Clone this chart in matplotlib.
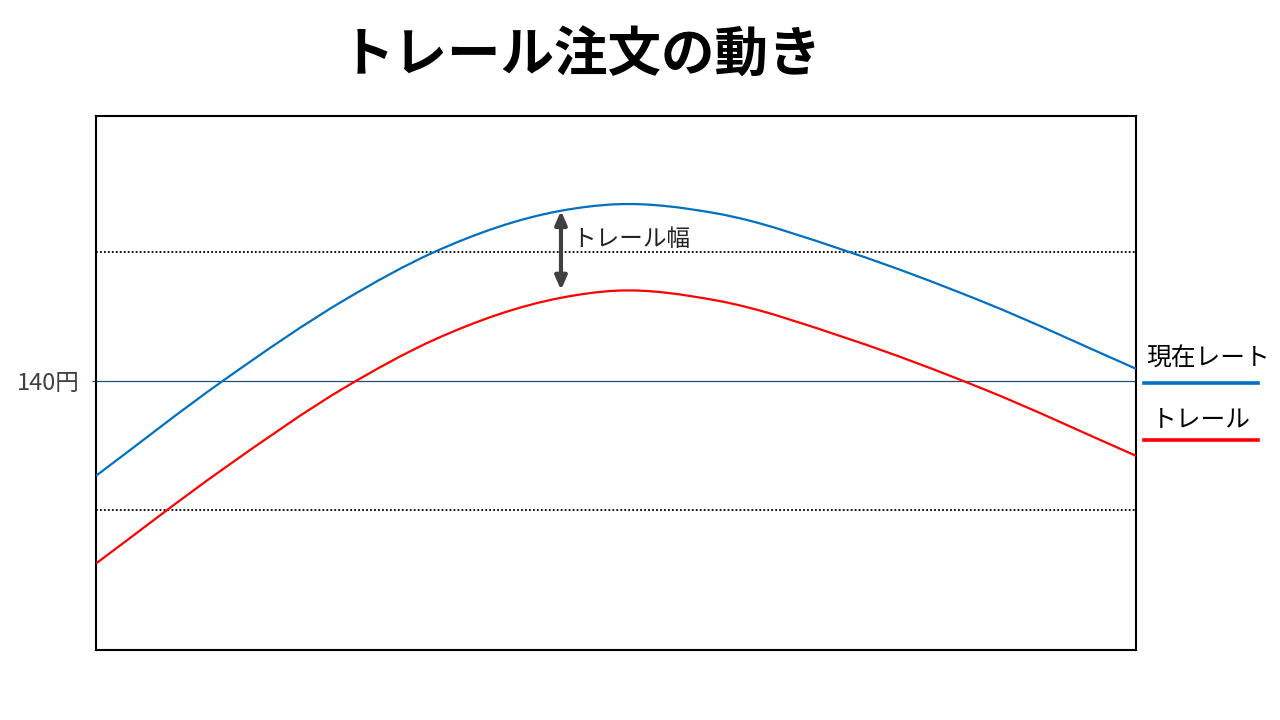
import matplotlib.pyplot as plt
from matplotlib.lines import Line2D
from matplotlib.path import Path
from matplotlib.patches import PathPatch

plt.rcParams['font.family'] = ['Noto Sans CJK JP', 'DejaVu Sans']

# Current rate (blue): time index 0..100, price in yen
rate_t = [0.0, 12.18, 24.04, 32.53, 44.71, 50.0, 59.62, 72.43, 85.26, 100.0]
rate_y = [138.53, 140.00, 141.27, 142.00, 142.64, 142.74, 142.60, 142.00, 141.23, 140.19]

# Trailing stop line (red), read at the same times
trail_t = [0.0, 12.18, 24.04, 32.53, 44.71, 50.0, 59.62, 72.43, 85.26, 100.0]
trail_y = [137.17, 138.63, 139.91, 140.64, 141.29, 141.40, 141.25, 140.65, 139.88, 138.84]

ref_price = 140
band_prices = [142, 138]
arrow_t = 44.71
arrow_top = 142.64
arrow_bottom = 141.41

title = "トレール注文の動き"
rate_label = "現在レート"
trail_label = "トレール"
width_label = "トレール幅"

blue = "#0070C0"
red = "#FF0000"


def smooth_line(ax, xs, ys, color):
    # smoothed line like a spreadsheet chart: cubic segments through the points
    n = len(xs)
    sec = [(ys[i + 1] - ys[i]) / (xs[i + 1] - xs[i]) for i in range(n - 1)]
    h = [xs[i + 1] - xs[i] for i in range(n - 1)]
    slopes = [sec[0]]
    for i in range(1, n - 1):
        slopes.append((sec[i - 1] * h[i] + sec[i] * h[i - 1]) / (h[i - 1] + h[i]))
    slopes.append(sec[-1])
    verts = [(xs[0], ys[0])]
    codes = [Path.MOVETO]
    for i in range(n - 1):
        verts += [(xs[i] + h[i] / 3, ys[i] + slopes[i] * h[i] / 3),
                  (xs[i + 1] - h[i] / 3, ys[i + 1] - slopes[i + 1] * h[i] / 3),
                  (xs[i + 1], ys[i + 1])]
        codes += [Path.CURVE4] * 3
    ax.add_patch(PathPatch(Path(verts, codes), fill=False, edgecolor=color,
                           lw=1.6, zorder=3))


fig = plt.figure(figsize=(12.8, 7.2), dpi=100)
ax = fig.add_axes([96 / 1280, 70 / 720, 1040 / 1280, 534 / 720])

ax.set_xlim(0, 100)
ax.set_ylim(135.829, 144.109)

# reference price line and the dotted band
ax.axhline(ref_price, color="#1F4E79", lw=0.9, zorder=1)
for p in band_prices:
    ax.axhline(p, color="black", lw=1.3, ls=(0, (1, 1.2)), zorder=1)

smooth_line(ax, rate_t, rate_y, blue)
smooth_line(ax, trail_t, trail_y, red)

# trail width arrow
ax.annotate("", xy=(arrow_t, arrow_bottom), xytext=(arrow_t, arrow_top),
            arrowprops=dict(arrowstyle="<|-|>,head_length=0.8,head_width=0.35",
                            color="#404040", lw=3, shrinkA=0, shrinkB=0),
            zorder=4)
ax.text(arrow_t + 1.1, 142.2, width_label, fontsize=17, color="#222222",
        va="center", ha="left")

ax.set_xticks([])
ax.set_yticks([ref_price])
ax.set_yticklabels([str(ref_price) + "円"], fontsize=17, color="#404040")
ax.tick_params(axis="y", length=3, width=0.9, color="#1F4E79", pad=8.5)
for s in ax.spines.values():
    s.set_linewidth(1.5)
    s.set_color("black")

fig.text(581 / 1280, 1 - 56 / 720, title, fontsize=38.5, fontweight="bold",
         ha="center", va="center")

# legend drawn by hand on the right
fig.text(1208 / 1280, 1 - 359 / 720, rate_label, fontsize=17.8, ha="center", va="center")
fig.add_artist(Line2D([1144 / 1280, 1258 / 1280], [1 - 383 / 720] * 2,
                      color=blue, lw=2.6, transform=fig.transFigure))
fig.text(1201 / 1280, 1 - 419 / 720, trail_label, fontsize=17.8, ha="center", va="center")
fig.add_artist(Line2D([1144 / 1280, 1258 / 1280], [1 - 440 / 720] * 2,
                      color=red, lw=2.6, transform=fig.transFigure))

fig.savefig("out.png", dpi=100)
